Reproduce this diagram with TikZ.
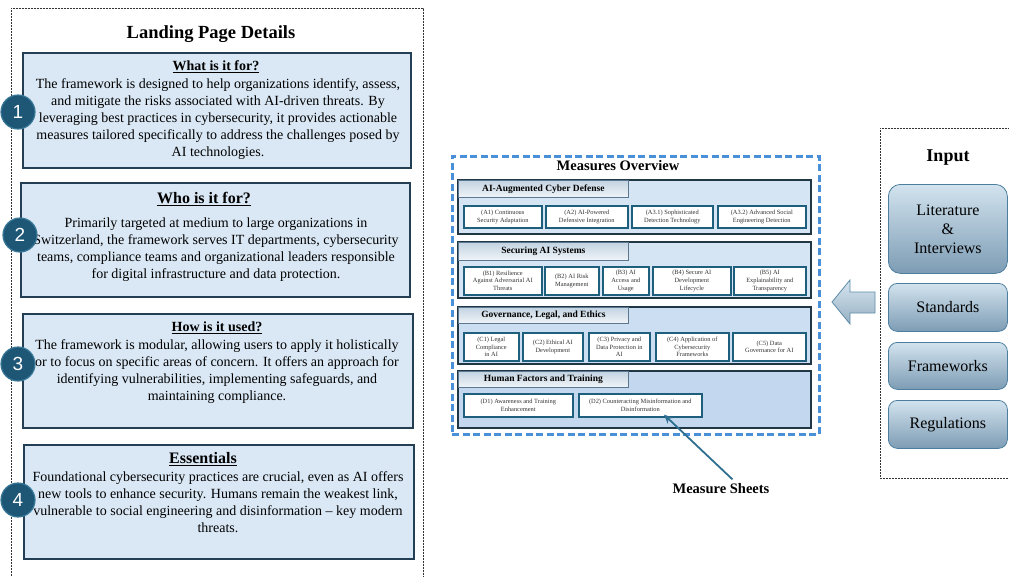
\documentclass[tikz,border=0pt]{standalone}
\usepackage{fontspec}
\setmainfont{Liberation Serif}
\newfontfamily\numfont{Liberation Sans}
\usetikzlibrary{calc,arrows.meta}
\definecolor{boxblue}{HTML}{DAE8F5}
\definecolor{boxline}{HTML}{243F54}
\definecolor{circfill}{HTML}{1E5676}
\definecolor{circdraw}{HTML}{3A7898}
\definecolor{measblue}{HTML}{4A90D9}
\definecolor{catline}{HTML}{203746}
\definecolor{catA}{HTML}{D5E5F3}
\definecolor{catC}{HTML}{CCDEF1}
\definecolor{catD}{HTML}{C3D8EE}
\definecolor{itemline}{HTML}{1F5F7E}
\definecolor{itemtext}{HTML}{333333}
\definecolor{tabline}{HTML}{5B7890}
\definecolor{tabtop}{HTML}{C3D3E1}
\definecolor{tabbot}{HTML}{F0F5F9}
\definecolor{inline}{HTML}{4C7F9F}
\definecolor{intop}{HTML}{D2E3EE}
\definecolor{inbot}{HTML}{7D9CB4}
\definecolor{arrowcol}{HTML}{2F6F8F}
\begin{document}
\begin{tikzpicture}[x=1pt,y=-1pt,
  panel/.style={draw=black!80,line width=0.6pt,dash pattern=on 2pt off 1pt,anchor=north west,inner sep=0pt},
  infobox/.style={draw=boxline,fill=boxblue,line width=1.8pt,anchor=north west,inner sep=0pt},
  headtxt/.style={font=\bfseries\fontsize{14}{17}\selectfont},
  bodytxt/.style={align=center,font=\fontsize{14}{17}\selectfont,inner sep=0pt},
  numcirc/.style={circle,fill=circfill,draw=circdraw,line width=1.2pt,minimum size=34pt,inner sep=0pt,text=white,font=\numfont\fontsize{19}{19}\selectfont},
  measpanel/.style={draw=measblue,line width=2.6pt,dash pattern=on 7pt off 3.5pt,anchor=north west,inner sep=0pt},
  catbox/.style={draw=catline,line width=1.8pt,anchor=north west,inner sep=0pt},
  cattab/.style={draw=tabline,line width=0.8pt,top color=tabtop,bottom color=tabbot,anchor=north west,inner sep=0pt,minimum width=170pt,font=\bfseries\fontsize{9.5}{10}\selectfont},
  itembox/.style={draw=itemline,fill=white,line width=1.6pt,anchor=north west,inner sep=0pt,align=center,text=itemtext,font=\fontsize{6.4}{7.8}\selectfont},
  inbox/.style={draw=inline,line width=0.8pt,top color=intop,bottom color=inbot,anchor=north west,inner sep=0pt,align=center,minimum width=119pt,font=\fontsize{16}{19}\selectfont},
  msarrow/.style={draw=arrowcol,line width=1.8pt,-{Stealth[length=9pt,width=8pt]}}
]
\useasboundingbox (0,0) rectangle (1009,576);

% ---------------- Left panel ----------------
\node[panel,minimum width=412pt,minimum height=590pt] (lpanel) at (11,8) {};
\node[font=\bfseries\fontsize{18.5}{21}\selectfont] (ltitle) at (211,34) {Landing Page Details};

\node[infobox,minimum width=388pt,minimum height=115pt] (box1) at (22,52) {};
\node[headtxt] (h1) at (216,67) {\underline{What is it for?}};
\node[bodytxt] (t1) at (218,119.5) {The framework is designed to help organizations identify, assess,\\
and mitigate the risks associated with AI-driven threats. By\\
leveraging best practices in cybersecurity, it provides actionable\\
measures tailored specifically to address the challenges posed by\\
AI technologies.};

\node[infobox,minimum width=389pt,minimum height=114pt] (box2) at (20,182) {};
\node[headtxt,font=\bfseries\fontsize{16}{19}\selectfont] (h2) at (204,199) {\underline{Who is it for?}};
\node[bodytxt] (t2) at (216,250) {Primarily targeted at medium to large organizations in\\
Switzerland, the framework serves IT departments, cybersecurity\\
teams, compliance teams and organizational leaders responsible\\
for digital infrastructure and data protection.};

\node[infobox,minimum width=390pt,minimum height=114pt] (box3) at (22,313) {};
\node[headtxt] (h3) at (217,328) {\underline{How is it used?}};
\node[bodytxt] (t3) at (217,372) {The framework is modular, allowing users to apply it holistically\\
or to focus on specific areas of concern. It offers an approach for\\
identifying vulnerabilities, implementing safeguards, and\\
maintaining compliance.};

\node[infobox,minimum width=390pt,minimum height=114pt] (box4) at (23,444) {};
\node[headtxt,font=\bfseries\fontsize{16}{19}\selectfont] (h4) at (203,459) {\underline{Essentials}};
\node[bodytxt] (t4) at (218,502.5) {Foundational cybersecurity practices are crucial, even as AI offers\\
new tools to enhance security. Humans remain the weakest link,\\
vulnerable to social engineering and disinformation -- key modern\\
threats.};

\node[numcirc] (c1) at (18,112) {1};
\node[numcirc] (c2) at (20,235) {2};
\node[numcirc] (c3) at (18,364) {3};
\node[numcirc] (c4) at (18,500) {4};

% ---------------- Measures overview ----------------
\node[measpanel,minimum width=367pt,minimum height=278pt] (mpanel) at (451,155) {};
\node[font=\bfseries\fontsize{14.5}{16}\selectfont] (mtitle) at (618,166) {Measures Overview};

% A
\node[catbox,fill=catA,minimum width=353pt,minimum height=54pt] (catA) at (457,179) {};
\node[cattab,minimum height=17pt] (tabA) at (458,180) {AI-Augmented Cyber Defense};
\node[itembox,minimum width=78pt,minimum height=22pt] (a1) at (463,205) {(A1) Continuous\\Security Adaptation};
\node[itembox,minimum width=82pt,minimum height=22pt] (a2) at (545,205) {(A2) AI-Powered\\Defensive Integration};
\node[itembox,minimum width=81pt,minimum height=22pt] (a31) at (631,205) {(A3.1) Sophisticated\\Detection Technology};
\node[itembox,minimum width=88pt,minimum height=22pt] (a32) at (717,205) {(A3.2) Advanced Social\\Engineering Detection};

% B
\node[catbox,fill=catA,minimum width=353pt,minimum height=56pt] (catB) at (457,241) {};
\node[cattab,minimum height=18pt] (tabB) at (458,242) {Securing AI Systems};
\node[itembox,minimum width=78pt,minimum height=28pt] (b1) at (463,266) {(B1) Resilience\\Against Adversarial AI\\Threats};
\node[itembox,minimum width=54pt,minimum height=28pt] (b2) at (544,266) {(B2) AI Risk\\Management};
\node[itembox,minimum width=46pt,minimum height=28pt] (b3) at (602,266) {(B3) AI\\Access and\\Usage};
\node[itembox,minimum width=78pt,minimum height=28pt] (b4) at (652,266) {(B4) Secure AI\\Development\\Lifecycle};
\node[itembox,minimum width=72pt,minimum height=28pt] (b5) at (733,266) {(B5) AI\\Explainability and\\Transparency};

% C
\node[catbox,fill=catC,minimum width=353pt,minimum height=57pt] (catC) at (457,306) {};
\node[cattab,minimum height=16pt] (tabC) at (458,307) {Governance, Legal, and Ethics};
\node[itembox,minimum width=55pt,minimum height=28pt] (c1b) at (463,332) {(C1) Legal\\Compliance\\in AI};
\node[itembox,minimum width=60pt,minimum height=28pt] (c2b) at (522,332) {(C2) Ethical AI\\Development};
\node[itembox,minimum width=61pt,minimum height=28pt] (c3b) at (588,332) {(C3) Privacy and\\Data Protection in\\AI};
\node[itembox,minimum width=73pt,minimum height=28pt] (c4b) at (655,332) {(C4) Application of\\Cybersecurity\\Frameworks};
\node[itembox,minimum width=73pt,minimum height=28pt] (c5b) at (732,332) {(C5) Data\\Governance for AI};

% D
\node[catbox,fill=catD,minimum width=353pt,minimum height=57pt] (catD) at (457,370) {};
\node[cattab,minimum height=16pt] (tabD) at (458,371) {Human Factors and Training};
\node[itembox,minimum width=109pt,minimum height=23pt] (d1) at (463,393) {(D1) Awareness and Training\\Enhancement};
\node[itembox,minimum width=123pt,minimum height=23pt] (d2) at (578,393) {(D2) Counteracting Misinformation and\\Disinformation};

% Measure sheets
\node[font=\bfseries\fontsize{14.5}{16}\selectfont] (ms) at (721,489) {Measure Sheets};
\draw[msarrow] ($(ms.north)!0.22!(ms.north east)+(0,-1)$) -- ($(d2.south)!0.38!(d2.south east)+(0,-3)$);

% ---------------- Input panel ----------------
\node[panel,minimum width=145pt,minimum height=350pt] (rpanel) at (880,128) {};
\node[font=\bfseries\fontsize{18}{20}\selectfont] (intitle) at (948,158) {Input};
\node[inbox,rounded corners=12pt,minimum height=89pt] (lit) at (888,184) {Literature\\\&\\Interviews};
\node[inbox,rounded corners=9pt,minimum height=48pt] (std) at (888,283) {Standards};
\node[inbox,rounded corners=9pt,minimum height=47pt] (fw) at (888,342) {Frameworks};
\node[inbox,rounded corners=9pt,minimum height=48pt] (reg) at (888,400) {Regulations};

% big arrow
\shade[top color=intop!90!white,bottom color=inbot!80!white,draw=inline!90,line width=0.8pt]
  (832,302) -- (850,280) -- (850,292) -- (875,292) -- (875,313) -- (850,313) -- (850,324) -- cycle;
\end{tikzpicture}
\end{document}
